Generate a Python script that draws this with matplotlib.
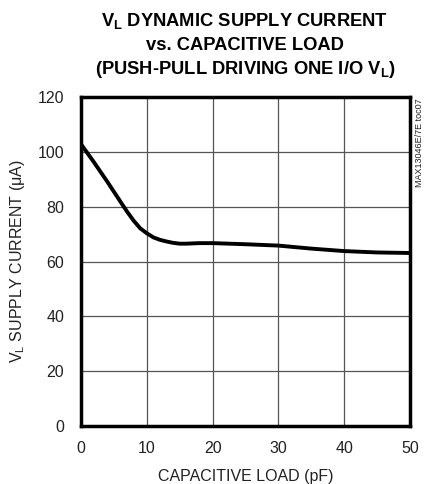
import numpy as np
import matplotlib
matplotlib.use('Agg')
import matplotlib.pyplot as plt

# Values
load_pf = [0, 2, 4, 6, 7, 8, 9, 10, 11, 12, 13, 14, 15, 16, 18, 20,
           25, 30, 35, 40, 45, 50]
current_ua = [102.8, 96.1, 89.1, 81.8, 78.2, 74.9, 72.1, 70.3, 68.8, 67.9,
              67.3, 66.8, 66.5, 66.5, 66.7, 66.7, 66.3, 65.8, 64.7, 63.8,
              63.3, 63.1]
x_ticks = [0, 10, 20, 30, 40, 50]
y_ticks = [0, 20, 40, 60, 80, 100, 120]

plt.rcParams['font.family'] = ['Liberation Sans', 'DejaVu Sans']
plt.rcParams['mathtext.fontset'] = 'custom'
plt.rcParams['mathtext.rm'] = 'Liberation Sans'
plt.rcParams['mathtext.bf'] = 'Liberation Sans:bold'

fig = plt.figure(figsize=(4.27, 4.84), dpi=100)
ax = fig.add_axes([81/427, 1 - 426/484, (410-81)/427, (426-97)/484])

ax.plot(load_pf, current_ua, color='black', lw=2.8, solid_capstyle='butt')

ax.set_xlim(0, 50)
ax.set_ylim(0, 120)
ax.set_xticks(x_ticks)
ax.set_yticks(y_ticks)
ax.tick_params(length=0, labelsize=11.5, colors='#222222')
ax.tick_params(axis='x', pad=11)
ax.tick_params(axis='y', pad=12)
ax.grid(True, color='#555555', lw=0.9)
for s in ax.spines.values():
    s.set_linewidth(2.5)

ax.set_xlabel('CAPACITIVE LOAD (pF)', fontsize=11.5, color='#222222', labelpad=9)
ax.set_ylabel(r'V$_\mathregular{L}$ SUPPLY CURRENT ($\mathregular{\mu}$A)', fontsize=11.5,
              color='#222222', labelpad=8)

title_kw = dict(ha='center', va='center', fontsize=13.2, fontweight='bold')
fig.text(245/427, 1 - 21/484, r'V$_\mathbf{L}$ DYNAMIC SUPPLY CURRENT', **title_kw)
fig.text(245/427, 1 - 45/484, 'vs. CAPACITIVE LOAD', **title_kw)
fig.text(245/427, 1 - 70/484, r'(PUSH-PULL DRIVING ONE I/O V$_\mathbf{L}$)', **title_kw)

fig.text(420/427, 1 - 98/484, 'MAX13046E/7E toc07', rotation=90,
         ha='center', va='top', fontsize=6.5, color='#222222')

fig.savefig('out.png', dpi=100)
